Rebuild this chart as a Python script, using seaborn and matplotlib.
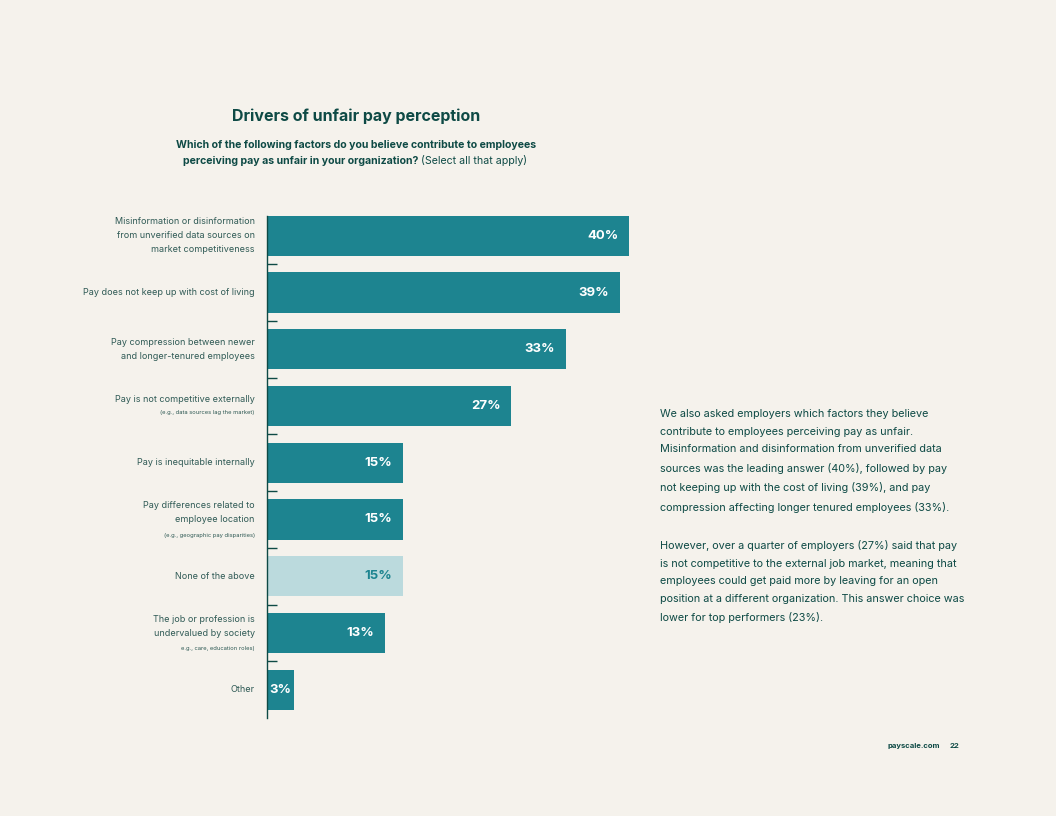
import matplotlib
matplotlib.use("Agg")
import matplotlib.pyplot as plt
import seaborn as sns
import pandas as pd

categories = ["Misinformation or disinformation\nfrom unverified data sources on\nmarket competitiveness",
              "Pay does not keep up with cost of living",
              "Pay compression between newer\nand longer-tenured employees",
              "Pay is not competitive externally",
              "Pay is inequitable internally",
              "Pay differences related to\nemployee location",
              "None of the above",
              "The job or profession is\nundervalued by society",
              "Other"]
sublabels = ["", "", "", "(e.g., data sources lag the market)", "",
             "(e.g., geographic pay disparities)", "", "e.g., care, education roles)", ""]
values = [40, 39, 33, 27, 15, 15, 15, 13, 3]
labels = ["40%", "39%", "33%", "27%", "15%", "15%", "15%", "13%", "3%"]

BG = "#F5F2EC"
TEAL = "#1D8490"
LIGHT = "#BBDADD"
DARK = "#0E4A45"
GREYTXT = "#2F5A55"

sns.set_theme(style="white")
plt.rcParams["font.family"] = ["Inter", "DejaVu Sans"]

fig = plt.figure(figsize=(10.56, 8.16), dpi=100, facecolor=BG)
ax = fig.add_axes([267/1056, 98/816, 362/1056, 502/816], facecolor=BG)

df = pd.DataFrame({"cat": [str(i) for i in range(len(values))], "val": values})
colors = [LIGHT if c == "None of the above" else TEAL for c in categories]
sns.barplot(data=df, x="val", y="cat", hue="cat", palette=colors, legend=False,
            width=0.71, ax=ax, saturation=1, linewidth=0, edgecolor="none")
ax.set_xlim(0, 40)
ax.set_ylim(8.5, -0.35)
for s in ["top", "right", "bottom"]:
    ax.spines[s].set_visible(False)
ax.spines["left"].set_color(DARK)
ax.spines["left"].set_linewidth(1.0)
ax.set_xticks([])
ax.set_yticks([])
ax.set_yticks([i + 0.5 for i in range(8)], minor=True)
ax.tick_params(axis="y", which="minor", direction="in", length=7, width=1, color=DARK, left=True)
ax.set_xlabel(""); ax.set_ylabel("")

for i, (v, lab, c) in enumerate(zip(values, labels, categories)):
    tc = TEAL if c == "None of the above" else "white"
    if v > 5:
        ax.text(v - 1.2, i, lab, ha="right", va="center", color=tc, fontsize=9.5, fontweight="bold")
    else:
        ax.text(v / 2, i, lab, ha="center", va="center", color=tc, fontsize=9.5, fontweight="bold")
    nlines = c.count("\n") + 1
    off = 0.0 if not sublabels[i] else -0.12
    ax.text(-1.35, i + off, c, ha="right", va="center", color=GREYTXT,
            fontsize=6.5, linespacing=1.7)
    if sublabels[i]:
        ax.text(-1.35, i + off + 0.16 * nlines + 0.08, sublabels[i], ha="right", va="center",
                color=GREYTXT, fontsize=4.2)

fig.text(356/1056, 1 - 116/816, "Drivers of unfair pay perception", ha="center", va="center",
         color=DARK, fontsize=11.5, fontweight="bold")
fig.text(536/1056, 1 - 145/816, "Which of the following factors do you believe contribute to employees",
         ha="right", va="center", color=DARK, fontsize=7.6, fontweight="bold")
fig.text(418/1056, 1 - 161/816, "perceiving pay as unfair in your organization?",
         ha="right", va="center", color=DARK, fontsize=7.6, fontweight="bold")
fig.text(421/1056, 1 - 161/816, "(Select all that apply)", ha="left", va="center",
         color=DARK, fontsize=7.6)

para1 = ("We also asked employers which factors they believe\n"
         "contribute to employees perceiving pay as unfair.\n"
         "Misinformation and disinformation from unverified data\n"
         "sources was the leading answer (40%), followed by pay\n"
         "not keeping up with the cost of living (39%), and pay\n"
         "compression affecting longer tenured employees (33%).")
para2 = ("However, over a quarter of employers (27%) said that pay\n"
         "is not competitive to the external job market, meaning that\n"
         "employees could get paid more by leaving for an open\n"
         "position at a different organization. This answer choice was\n"
         "lower for top performers (23%).")
fig.text(660/1056, 1 - 409/816, para1, ha="left", va="top", color=DARK, fontsize=7.8, linespacing=1.95)
fig.text(660/1056, 1 - 540/816, para2, ha="left", va="top", color=DARK, fontsize=7.8, linespacing=1.95)

fig.text(940/1056, 1 - 746/816, "payscale.com", ha="right", va="center", color=DARK, fontsize=5.5, fontweight="bold")
fig.text(959/1056, 1 - 746/816, "22", ha="right", va="center", color=DARK, fontsize=5.5, fontweight="bold")

fig.savefig("out.png", dpi=100, facecolor=BG)
